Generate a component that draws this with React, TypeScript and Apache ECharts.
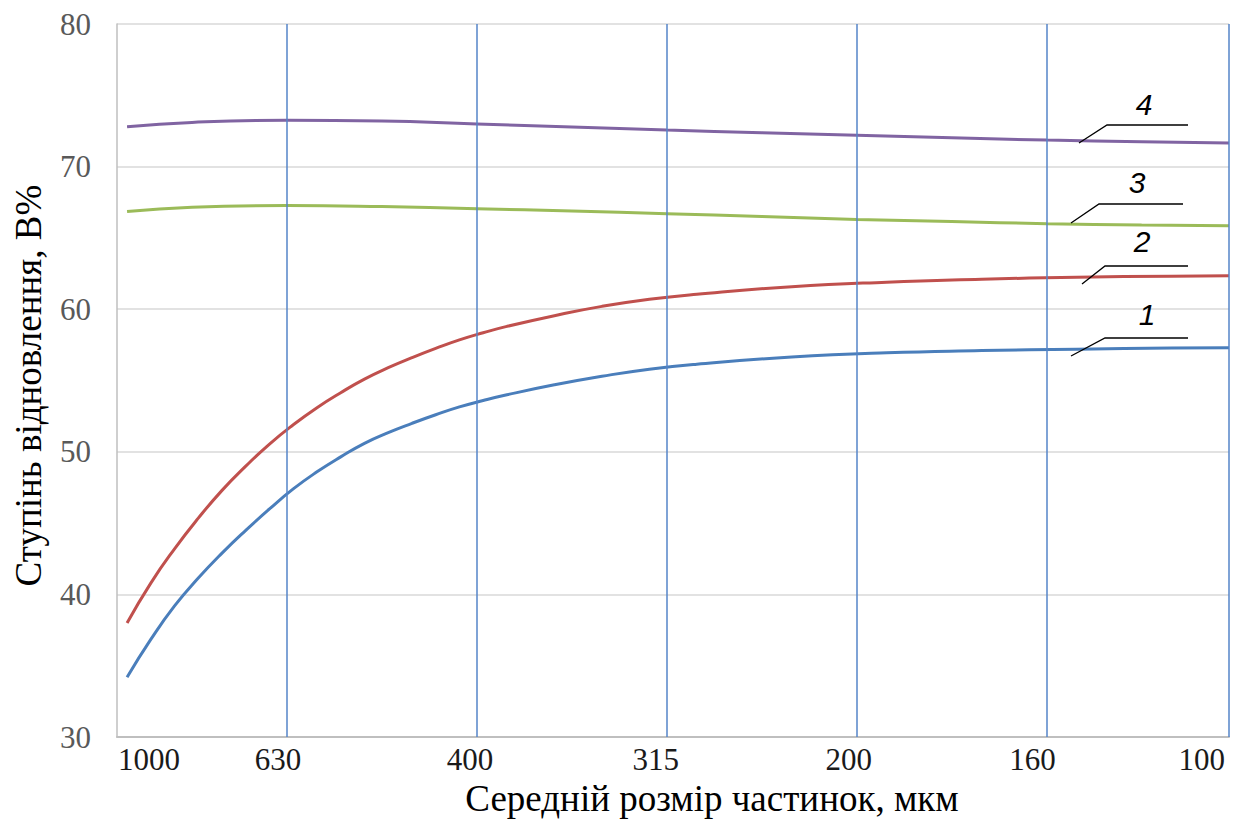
import React, { useEffect, useRef } from "react";
import * as echarts from "echarts";

// Particle size categories (positions along the size axis, in category units)
const sizeLabels = ["1000", "630", "400", "315", "200", "160", "100"];
const sizeLabelPos = [0.274, 0.953, 1.963, 2.942, 3.958, 4.926, 5.816];
const sizeGridPos = [1, 2, 3, 4, 5, 5.96];
const sizeMin = 0.105;
const sizeMax = 5.96;

// Sample positions for curves 1 and 2
const c12X = [0.158, 0.283, 0.408, 0.533, 0.658, 0.783, 0.908, 1.033, 1.158, 1.283, 1.408, 1.533, 1.658, 1.783, 1.908, 2.033, 2.158, 2.408, 2.658, 2.908, 3.158, 3.658, 4.158, 4.658, 5.158, 5.658, 5.96];
// Curve 1 (blue)
const c1Y = [34.2, 36.85, 39.2, 41.15, 42.9, 44.5, 46.0, 47.4, 48.6, 49.65, 50.6, 51.35, 52.0, 52.6, 53.15, 53.6, 54.0, 54.7, 55.3, 55.8, 56.15, 56.65, 56.95, 57.1, 57.2, 57.28, 57.3];
// Curve 2 (red)
const c2Y = [38.0, 40.8, 43.2, 45.35, 47.3, 49.0, 50.55, 51.9, 53.1, 54.15, 55.1, 55.9, 56.6, 57.25, 57.85, 58.35, 58.8, 59.55, 60.2, 60.7, 61.05, 61.58, 61.9, 62.1, 62.25, 62.32, 62.35];

// Sample positions for curves 3 and 4
const c34X = [0.158, 0.5, 1.0, 1.5, 2.0, 2.5, 3.0, 3.5, 4.0, 4.5, 5.0, 5.5, 5.96];
// Curve 3 (green)
const c3Y = [66.85, 67.15, 67.27, 67.2, 67.05, 66.88, 66.7, 66.5, 66.3, 66.15, 66.0, 65.9, 65.85];
// Curve 4 (purple)
const c4Y = [72.8, 73.1, 73.25, 73.2, 72.98, 72.78, 72.56, 72.38, 72.2, 72.02, 71.86, 71.75, 71.65];

// Curve annotations
const curveNames = ["1", "2", "3", "4"];

const yTicks = { min: 30, max: 80, interval: 10 };

const serif = "Liberation Serif";

function zip(xs: number[], ys: number[]) {
  return xs.map((x, i) => [x, ys[i]]);
}

export default function App() {
  const ref = useRef<HTMLDivElement>(null);

  useEffect(() => {
    if (!ref.current) return;
    const chart = echarts.init(ref.current, undefined, { renderer: "svg" });

    const leaders = [
      { pts: [[1071, 356], [1105, 338], [1188, 338]], tx: 1147, ty: 314, t: curveNames[0] },
      { pts: [[1082, 284], [1105, 266], [1188, 266]], tx: 1142, ty: 241, t: curveNames[1] },
      { pts: [[1071, 223], [1099, 204], [1183, 204]], tx: 1137, ty: 182, t: curveNames[2] },
      { pts: [[1079, 143], [1107, 125], [1188, 125]], tx: 1144, ty: 104, t: curveNames[3] },
    ];

    const graphics: any[] = [];
    leaders.forEach((l) => {
      graphics.push({
        type: "polyline",
        shape: { points: l.pts },
        style: { stroke: "#000", lineWidth: 1.3, fill: null },
        z: 100,
      });
      graphics.push({
        type: "text",
        x: l.tx,
        y: l.ty,
        style: {
          text: l.t,
          fill: "#000",
          font: "italic 30px 'Liberation Sans', sans-serif",
          align: "center",
          verticalAlign: "middle",
        },
        z: 100,
      });
    });

    const lineSeries = (data: number[][], color: string) => ({
      type: "line",
      data,
      smooth: 0.5,
      symbol: "none",
      lineStyle: { color, width: 3 },
      itemStyle: { color },
      z: 3,
      silent: true,
    });

    chart.setOption({
      animation: false,
      backgroundColor: "#fff",
      grid: { left: 117, right: 4, top: 24, bottom: 77, containLabel: false },
      xAxis: {
        type: "value",
        min: sizeMin,
        max: sizeMax,
        name: "Середній розмір частинок, мкм",
        nameLocation: "middle",
        nameGap: 42,
        nameTextStyle: { fontFamily: serif, fontSize: 37, color: "#000", padding: [0, 0, 0, 78] },
        axisLine: { show: true, onZero: false, lineStyle: { color: "#bfbfbf", width: 2 } },
        axisTick: { show: false },
        splitLine: { show: false },
        axisLabel: {
          customValues: sizeLabelPos,
          fontFamily: serif,
          fontSize: 31,
          color: "#1a1a1a",
          margin: 7,
          formatter: (v: number) => {
            let best = 0;
            sizeLabelPos.forEach((p, i) => {
              if (Math.abs(p - v) < Math.abs(sizeLabelPos[best] - v)) best = i;
            });
            return sizeLabels[best];
          },
        },
      },
      yAxis: {
        type: "value",
        min: yTicks.min,
        max: yTicks.max,
        interval: yTicks.interval,
        name: "Ступінь відновлення, В%",
        nameLocation: "middle",
        nameGap: 70,
        nameRotate: 90,
        nameTextStyle: { fontFamily: serif, fontSize: 37, color: "#000", padding: [0, 10, 0, 0] },
        axisLine: { show: true, lineStyle: { color: "#bfbfbf", width: 1.5 } },
        axisTick: { show: false },
        splitLine: { show: true, lineStyle: { color: "#d9d9d9", width: 1.5 } },
        axisLabel: { fontFamily: serif, fontSize: 31, color: "#595959", margin: 26 },
      },
      series: [
        {
          type: "line",
          data: [],
          silent: true,
          z: 2,
          markLine: {
            silent: true,
            symbol: ["none", "none"],
            label: { show: false },
            lineStyle: { color: "#5585c9", width: 1.5, type: "solid" },
            data: sizeGridPos.map((v) => ({ xAxis: v })),
          },
        },
        lineSeries(zip(c12X, c1Y), "#4a7ebb"),
        lineSeries(zip(c12X, c2Y), "#c0504d"),
        lineSeries(zip(c34X, c3Y), "#9bbb59"),
        lineSeries(zip(c34X, c4Y), "#8064a2"),
      ],
      graphic: graphics,
    });

    return () => chart.dispose();
  }, []);

  return (
    <div
      ref={ref}
      style={{ position: "fixed", left: 0, top: 0, width: 1233, height: 822, background: "#fff" }}
    />
  );
}
